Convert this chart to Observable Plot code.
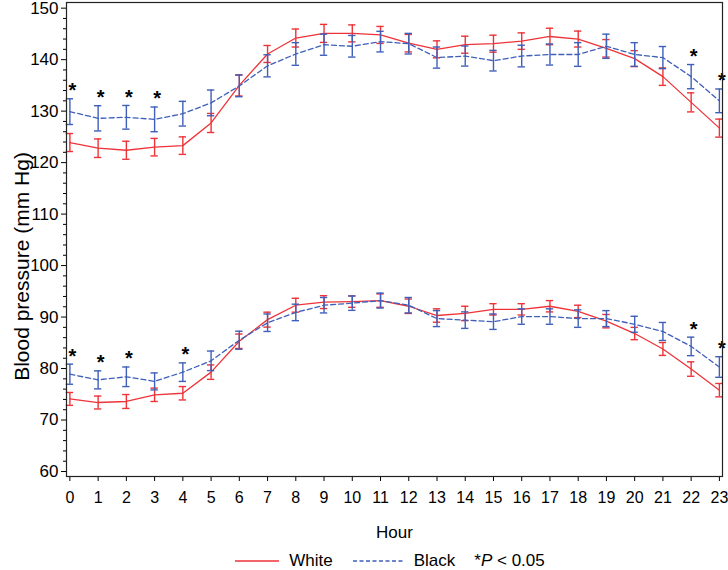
<!DOCTYPE html>
<html>
<head>
<meta charset="utf-8">
<script src="https://cdn.jsdelivr.net/npm/d3@7"></script>
<script src="https://cdn.jsdelivr.net/npm/@observablehq/plot@0.6"></script>
<style>
  body { margin: 0; background: #fff; font-family: "Liberation Sans", Arial, sans-serif; }
  #legend { display: flex; justify-content: center; align-items: center; height: 28px; font-size: 17px; color: #000; padding-left: 52px; padding-top: 5px; }
  #legend .item { display: flex; align-items: center; }
  #legend svg { display: block; }
</style>
</head>
<body>
<div id="chart"></div>
<div id="legend">
  <div class="item"><svg width="44" height="10"><line x1="0" x2="44" y1="5" y2="5" stroke="#EE3338" stroke-width="1.3"/></svg><span style="margin-left:10px">White</span></div>
  <div class="item" style="margin-left:20px"><svg width="52" height="10"><line x1="0" x2="52" y1="5" y2="5" stroke="#3F5FB9" stroke-width="1.3" stroke-dasharray="4,2.5"/></svg><span style="margin-left:9px">Black</span></div>
  <div class="item" style="margin-left:19px"><span>*<i>P</i> &lt; 0.05</span></div>
</div>
<script>
const hours = [0,1,2,3,4,5,6,7,8,9,10,11,12,13,14,15,16,17,18,19,20,21,22,23];

// Systolic
const whiteSys = [123.9,122.8,122.4,123.0,123.3,127.7,135.0,141.1,144.2,145.1,145.1,144.8,143.2,142.0,142.9,143.1,143.6,144.5,144.0,142.2,140.2,136.7,131.7,126.7];
const whiteSysSE = [1.75,1.8,1.75,1.7,1.7,1.85,2.05,1.65,1.75,1.75,1.65,1.65,1.7,1.65,1.65,1.65,1.6,1.6,1.55,1.7,1.55,1.7,1.85,1.75];
const blackSys = [129.9,128.6,128.8,128.4,129.5,131.6,134.9,138.8,141.1,142.9,142.6,143.5,143.1,140.4,140.7,139.8,140.7,141.0,141.0,142.6,141.0,140.4,136.7,132.0];
const blackSysSE = [2.5,2.45,2.3,2.4,2.4,2.5,2.1,2.15,2.2,2.05,2.1,2.0,2.0,2.05,1.95,2.0,2.1,2.05,2.3,2.35,2.3,2.15,2.35,2.3];

// Diastolic
const whiteDia = [74.1,73.4,73.6,74.9,75.2,79.3,85.3,89.5,92.3,92.9,93.0,93.2,92.1,90.3,90.7,91.5,91.5,92.1,91.1,89.2,86.8,83.8,79.9,75.8];
const whiteDiaSE = [1.25,1.25,1.35,1.3,1.3,1.4,1.4,1.45,1.35,1.25,1.1,1.3,1.4,1.3,1.4,1.1,1.1,1.1,1.2,1.3,1.2,1.25,1.4,1.3];
const blackDia = [78.9,77.8,78.4,77.5,79.3,81.5,85.5,88.9,90.9,92.3,92.7,93.2,92.3,89.7,89.4,89.1,90.1,90.1,89.7,89.7,88.6,87.2,84.3,80.3];
const blackDiaSE = [1.95,1.75,1.9,1.65,1.8,1.9,1.75,1.7,1.6,1.5,1.4,1.45,1.5,1.55,1.6,1.5,1.5,1.5,1.7,1.55,1.55,1.75,1.8,2.0];

// Hours with P < 0.05
const sysSig = [0,1,2,3,22,23];
const diaSig = [0,1,2,4,22,23];

const yTicks = [60,70,80,90,100,110,120,130,140,150];
const yMinor = [62,64,66,68,72,74,76,78,82,84,86,88,92,94,96,98,102,104,106,108,112,114,116,118,122,124,126,128,132,134,136,138,142,144,146,148];

const RED = "#EE3338", BLUE = "#3F5FB9";

function rows(group, measure, means, ses) {
  return hours.map((h, i) => ({group, measure, key: group + measure, hour: h, mean: means[i], lo: means[i] - ses[i], hi: means[i] + ses[i]}));
}
const white = [...rows("White","sys",whiteSys,whiteSysSE), ...rows("White","dia",whiteDia,whiteDiaSE)];
const black = [...rows("Black","sys",blackSys,blackSysSE), ...rows("Black","dia",blackDia,blackDiaSE)];
const stars = [
  ...black.filter(d => d.measure === "sys" && sysSig.includes(d.hour)),
  ...black.filter(d => d.measure === "dia" && diaSig.includes(d.hour))
];

const cap = 0.13;
function series(data, color, dash) {
  return [
    Plot.ruleX(data, {x: "hour", y1: "lo", y2: "hi", stroke: color, strokeWidth: 1.4}),
    Plot.ruleY(data, {y: "lo", x1: d => d.hour - cap, x2: d => d.hour + cap, stroke: color, strokeWidth: 1.4}),
    Plot.ruleY(data, {y: "hi", x1: d => d.hour - cap, x2: d => d.hour + cap, stroke: color, strokeWidth: 1.4}),
    Plot.line(data, {x: "hour", y: "mean", z: "key", stroke: color, strokeWidth: 1.3, strokeDasharray: dash})
  ];
}

const chart = Plot.plot({
  width: 728,
  height: 542,
  marginLeft: 66,
  marginRight: 6,
  marginTop: 2,
  marginBottom: 66,
  style: {fontFamily: "Liberation Sans, Arial, sans-serif", fontSize: "16px", color: "#000", background: "#fff"},
  x: {domain: [-0.12, 23.11]},
  y: {domain: [59.03, 151.1]},
  marks: [
    Plot.axisY({ticks: yMinor, tickSize: 3, text: null, label: null}),
    Plot.axisY({ticks: yTicks, tickSize: 5, tickPadding: 3, fontSize: 17, label: null}),
    Plot.axisX({ticks: hours, tickSize: 5, tickPadding: 10, fontSize: 16, label: null}),
    ...series(white, RED, null),
    ...series(black, BLUE, "5,3"),
    Plot.text(stars, {x: "hour", y: "hi", text: () => "*", dx: 2.5, dy: -8, fontSize: 20, fontWeight: "bold", fill: "#000"}),
    Plot.frame({stroke: "#222", strokeWidth: 1.2}),
    Plot.text(["Blood pressure (mm Hg)"], {frameAnchor: "left", textAnchor: "middle", dx: -44, dy: 27, rotate: -90, fontSize: 21, fill: "#000"}),
    Plot.text(["Hour"], {frameAnchor: "bottom", dy: 61, fontSize: 17, fill: "#000"})
  ]
});
document.getElementById("chart").appendChild(chart);
</script>
</body>
</html>
